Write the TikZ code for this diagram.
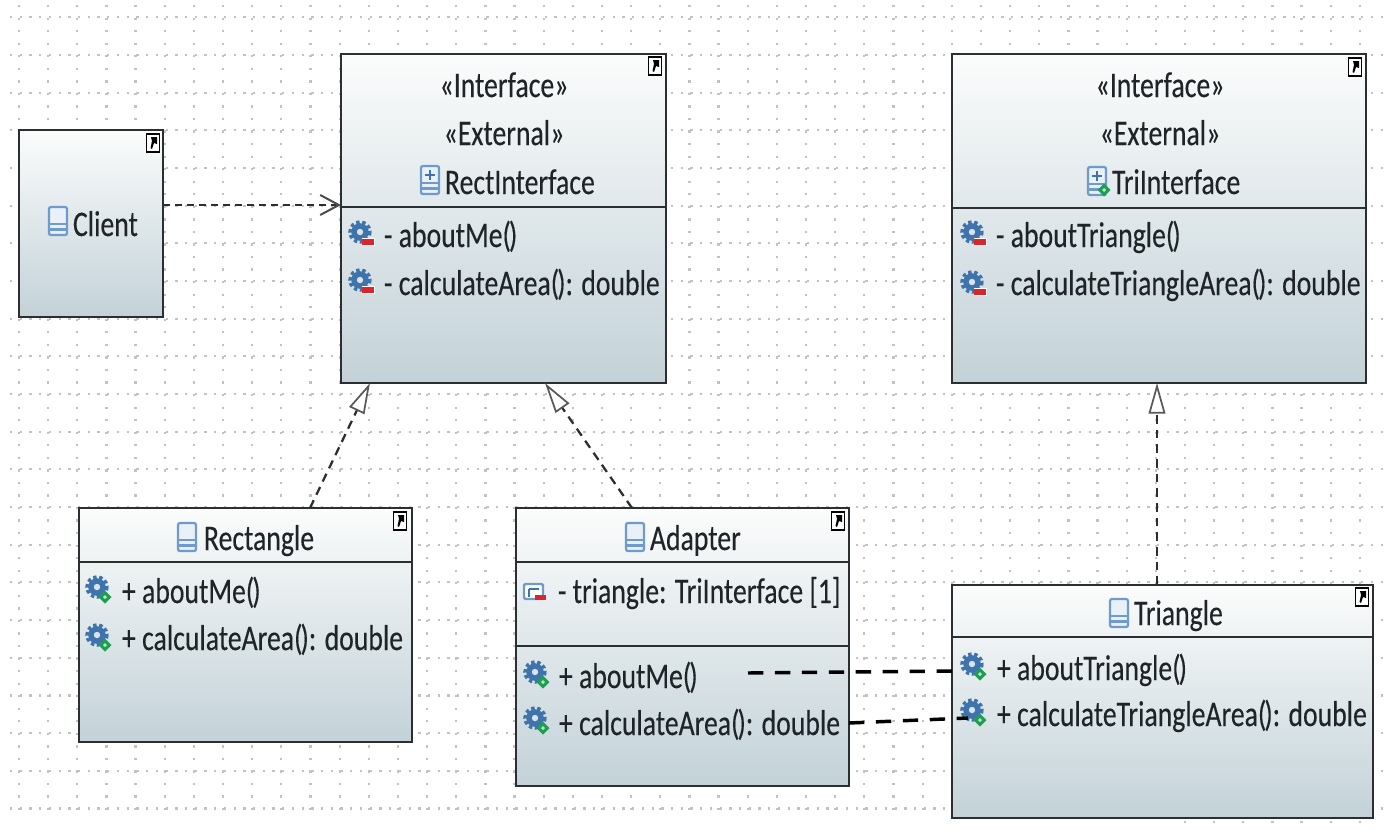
\documentclass[tikz,border=0pt]{standalone}
\usepackage{fontspec}
\setmainfont[FakeStretch=0.77,FakeBold=0.25]{Carlito}
\usetikzlibrary{arrows.meta,calc}
\definecolor{boxtop}{HTML}{FBFCFC}
\definecolor{boxbot}{HTML}{C3D2D8}
\definecolor{inkc}{HTML}{1F2428}
\definecolor{edgec}{HTML}{2B2F31}
\definecolor{gearc}{HTML}{3F73AB}
\definecolor{classc}{HTML}{6E9BCB}
\definecolor{badgeg}{HTML}{1E9E50}
\definecolor{badger}{HTML}{D8262C}
\newcommand{\pp}{(\kern-1.5pt)}
\tikzset{
  griddots/.style={draw=black!24,line width=1.7pt,dash pattern=on 1.7pt off 7.71pt},
  griddotsrow/.style={draw=black!24,line width=1.7pt,dash pattern=on 1.7pt off 5.59pt},
  umlbox/.style n args={4}{draw=edgec,line width=1.9pt,outer sep=0pt,inner sep=0pt,
    top color=boxtop,bottom color=boxbot,
    minimum width={(#3-#1)*0.75pt},minimum height={(#4-#2)*0.75pt},
    at={({(#1+#3)/2},{(#2+#4)/2})}},
  divider/.style={draw=edgec,line width=2.1pt},
  txt/.style={font=\fontsize{27pt}{30pt}\selectfont,text=inkc,inner sep=0pt,outer sep=0pt},
  txtl/.style={txt,anchor=base west},
  txtc/.style={txt,anchor=base},
  realize/.style={draw=edgec,line width=1.7pt,dash pattern=on 6.5pt off 4.5pt,
    -{Triangle[fill=white,color=black!65,line width=1.3pt,length=23pt,width=12.5pt,sep=0pt]}},
  depend/.style={draw=edgec,line width=2.1pt,dash pattern=on 5.5pt off 3.5pt,
    -{Straight Barb[color=black!70,line width=1.5pt,length=14pt,width=15pt]}},
  thickdash/.style={draw=black,line width=2.6pt,dash pattern=on 11.5pt off 8.7pt},
  collapse/.pic={
    \fill[white] (-6.5,-9) rectangle (6.5,9);
    \draw[black,line width=1.4pt] (-6.5,9) -- (-6.5,-9) -- (6.5,-9) -- (6.5,9) -- cycle;
    \fill[black] (-2,-6) -- (4,-6) -- (4,1) -- (1,0) -- (-1,6) -- (-2.5,5) -- (-1,-2) -- cycle;
  },
  classicon/.pic={
    \draw[classc,line width=1.7pt,fill=white!85!classc,rounded corners=1.5pt] (-9,-14) rectangle (9,14);
    \draw[classc,line width=1.7pt] (-9,3) -- (9,3) (-9,8.5) -- (9,8.5);
  },
  ifaceicon/.pic={
    \draw[classc,line width=1.7pt,fill=white!85!classc,rounded corners=1.5pt] (-9,-14) rectangle (9,14);
    \draw[classc,line width=1.7pt] (-9,3) -- (9,3) (-9,8.5) -- (9,8.5);
    \draw[gearc,line width=1pt] (-5,-5) -- (5,-5) (0,-10) -- (0,0);
  },
  gearicon/.pic={
    \draw[gearc,line width=2.6pt,dash pattern=on 2.6pt off 2pt] (0,0) circle (10);
    \fill[gearc] (0,0) circle (8.8);
    \fill[white!80!gearc] (0,0) circle (3.2);
  },
  plusbadge/.pic={
    \fill[badgeg] (0,-6.5) -- (6.5,0) -- (0,6.5) -- (-6.5,0) -- cycle;
    \fill[white!70!badgeg] (0,-2) -- (2,0) -- (0,2) -- (-2,0) -- cycle;
  },
  minusbadge/.pic={
    \fill[white] (-6.5,-4) rectangle (6.5,4);
    \fill[badger] (-6,-2.8) rectangle (6,2.8);
  },
  gearminus/.pic={\path (0,-2) pic{gearicon} (8,8) pic{minusbadge};},
  gearplus/.pic={\path (0,-2) pic{gearicon} (8,8) pic{plusbadge};},
  attricon/.pic={
    \draw[classc,line width=1.8pt,fill=white,rounded corners=1pt] (-10,-8) rectangle (9,7);
    \draw[gearc,line width=1.8pt] (-5,-3) -- (5,-3) (-5,-3) -- (-5,5);
    \fill[badger] (1,3) rectangle (12,8);
  },
}
\begin{document}
\begin{tikzpicture}[x=0.75pt,y=-0.75pt]
\useasboundingbox[fill=white] (0,0) rectangle (1400,833);
% dotted canvas grid
\foreach \k in {0,...,46}{
  \pgfmathsetmacro{\gx}{19+29.15*\k}
  \pgfmathsetmacro{\gy}{\k>39 ? 827 : 816}
  \draw[griddots] (\gx,5) -- (\gx,\gy);
}
\foreach \k in {0,...,21}{
  \pgfmathsetmacro{\gy}{17.3+37.67*\k}
  \draw[griddotsrow] (10,\gy) -- (1387,\gy);
}
% boxes
\node[umlbox={19}{130}{163}{317}] (client) {};
\node[umlbox={341}{54}{666}{383}] (rect) {};
\node[umlbox={952}{54}{1366}{383}] (tri) {};
\node[umlbox={79}{508}{412}{742}] (rectangle) {};
\node[umlbox={516}{508}{849}{786}] (adapter) {};
\node[umlbox={952}{585}{1373}{818}] (triangle) {};
% dividers
\draw[divider] (rect.west |- 0,207) -- (rect.east |- 0,207);
\draw[divider] (tri.west |- 0,208) -- (tri.east |- 0,208);
\draw[divider] (rectangle.west |- 0,562) -- (rectangle.east |- 0,562);
\draw[divider] (adapter.west |- 0,562) -- (adapter.east |- 0,562);
\draw[divider] (adapter.west |- 0,646) -- (adapter.east |- 0,646);
\draw[divider] (triangle.west |- 0,637) -- (triangle.east |- 0,637);
% collapse handles
\path (153,143) pic{collapse} (655,66) pic{collapse} (1355,67) pic{collapse}
      (400,521) pic{collapse} (838,521) pic{collapse} (1362,597) pic{collapse};
% class icons
\path (58,221) pic{classicon} (187,537) pic{classicon} (635,537) pic{classicon} (1119,613) pic{classicon};
\path (430,180) pic{ifaceicon} (1097,181) pic{ifaceicon} (1104,190) pic{plusbadge};
% member icons
\path (360,234) pic{gearminus} (360,282) pic{gearminus}
      (972,234) pic{gearminus} (972,284) pic{gearminus}
      (97,589) pic{gearplus} (97,637) pic{gearplus}
      (535,674) pic{gearplus} (535,720) pic{gearplus}
      (972,666) pic{gearplus} (972,712) pic{gearplus}
      (534,592) pic{attricon};
% texts
\node[txtl] (tclient) at (73,236) {Client};
\node[txtc] (ti1) at (504,97) {«Interface»};
\node[txtc] (te1) at (504,145) {«External»};
\node[txtl] (tri1) at (445,194) {RectInterface};
\node[txtl] (m1) at (384,247) {- aboutMe\pp};
\node[txtl] (m2) at (384,295) {- calculateArea\pp: double};
\node[txtc] (ti2) at (1160,97) {«Interface»};
\node[txtc] (te2) at (1160,145) {«External»};
\node[txtl] (tri2) at (1112,194) {TriInterface};
\node[txtl] (m3) at (996,247) {- aboutTriangle\pp};
\node[txtl] (m4) at (996,295) {- calculateTriangleArea\pp: double};
\node[txtl] (trect) at (204,550) {Rectangle};
\node[txtl] (m5) at (122,603) {+ aboutMe\pp};
\node[txtl] (m6) at (122,650) {+ calculateArea\pp: double};
\node[txtl] (tad) at (650,550) {Adapter};
\node[txtl] (m7) at (558,603) {- triangle: TriInterface [1]};
\node[txtl] (m8) at (559,688) {+ aboutMe\pp};
\node[txtl] (m9) at (559,735) {+ calculateArea\pp: double};
\node[txtl] (ttri) at (1134,625) {Triangle};
\node[txtl] (m10) at (997,680) {+ aboutTriangle\pp};
\node[txtl] (m11) at (997,726) {+ calculateTriangleArea\pp: double};
% connectors
\draw[depend] ($(client.north east)+(0,75)$) -- ($(rect.north west)+(0,151)$);
\draw[realize] ($(rectangle.north west)+(231,0)$) -- ($(rect.south west)+(29,0)$);
\draw[realize] ($(adapter.north west)+(116,0)$) -- ($(rect.south west)+(204,0)$);
\draw[realize] ($(triangle.north west)+(205,0)$) -- ($(tri.south west)+(205,0)$);
\draw[thickdash] (748,673) -- ($(triangle.north west)+(0,86)$);
\draw[thickdash] ($(adapter.north east)+(0,215)$) -- ($(triangle.north west)+(16,133)$);
\end{tikzpicture}
\end{document}
